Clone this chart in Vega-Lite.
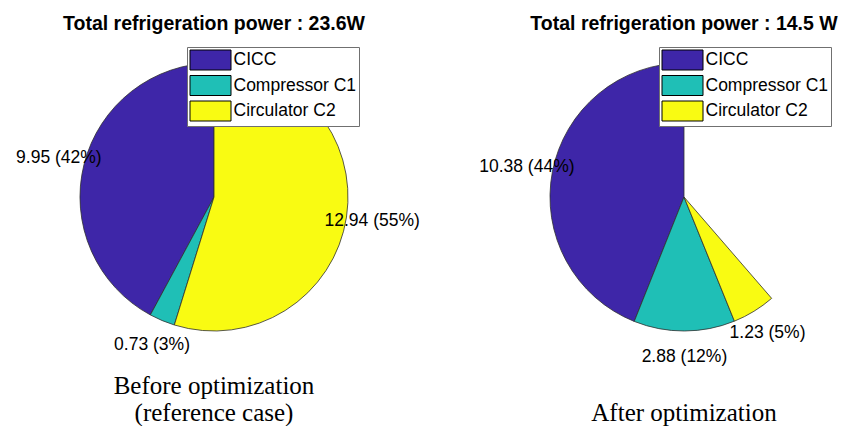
{
  "$schema": "https://vega.github.io/schema/vega-lite/v6.json",
  "padding": {"left": 0, "top": 13, "right": 0, "bottom": 0},
  "background": "white",
  "config": {
    "view": {"stroke": null},
    "font": "Liberation Sans",
    "title": {"font": "Liberation Sans", "fontSize": 19.5, "fontWeight": "bold", "color": "black", "baseline": "alphabetic", "offset": -4}
  },
  "vconcat": [
    {
      "hconcat": [
        {
          "width": 428,
          "height": 334,
          "title": {"text": "Total refrigeration power : 23.6W"},
          "data": {"values": [
            {"source": "CICC", "value": 9.95, "label": "9.95 (42%)", "idx": 1},
            {"source": "Compressor C1", "value": 0.73, "label": "0.73 (3%)", "idx": 2},
            {"source": "Circulator C2", "value": 12.94, "label": "12.94 (55%)", "idx": 3}
          ]},
          "encoding": {
            "theta": {"field": "value", "type": "quantitative", "stack": "zero", "scale": {"domain": [0, 23.62], "range": [6.283185, 0]}},
            "order": {"field": "idx", "type": "quantitative"},
            "color": {
              "field": "source", "type": "nominal",
              "scale": {"domain": ["CICC", "Compressor C1", "Circulator C2"], "range": ["#3E26A8", "#1FBFB6", "#F9FB12"]},
              "legend": {
                "title": null, "orient": "none", "legendX": 187, "legendY": 17,
                "fillColor": "white", "strokeColor": "#707070", "padding": 2.5,
                "rowPadding": 0.5, "symbolType": "M-1,-1L3.1,-1L3.1,1L-1,1Z", "symbolSize": 400,
                "symbolStrokeColor": "black", "symbolStrokeWidth": 1, "symbolOpacity": 1,
                "labelFont": "Liberation Sans", "labelFontSize": 17.5, "labelColor": "black", "labelOffset": 23, "labelLimit": 300
              }
            }
          },
          "layer": [
            {"mark": {"type": "arc", "outerRadius": 134, "stroke": "#303030", "strokeWidth": 0.8}},
            {"mark": {"type": "text", "radius": 160, "fontSize": 17.5, "font": "Liberation Sans", "align": "center", "baseline": "middle"},
             "encoding": {"text": {"field": "label"}, "color": {"value": "black"}}}
          ]
        },
        {
          "width": 314,
          "height": 334,
          "title": {"text": "Total refrigeration power : 14.5 W"},
          "data": {"values": [
            {"source": "CICC", "value": 10.38, "label": "10.38 (44%)", "idx": 1},
            {"source": "Compressor C1", "value": 2.88, "label": "2.88 (12%)", "idx": 2},
            {"source": "Circulator C2", "value": 1.23, "label": "1.23 (5%)", "idx": 3}
          ]},
          "encoding": {
            "theta": {"field": "value", "type": "quantitative", "stack": "zero", "scale": {"domain": [0, 23.62], "range": [6.283185, 0]}},
            "order": {"field": "idx", "type": "quantitative"},
            "color": {
              "field": "source", "type": "nominal",
              "scale": {"domain": ["CICC", "Compressor C1", "Circulator C2"], "range": ["#3E26A8", "#1FBFB6", "#F9FB12"]},
              "legend": {
                "title": null, "orient": "none", "legendX": 132, "legendY": 17,
                "fillColor": "white", "strokeColor": "#707070", "padding": 2.5,
                "rowPadding": 0.5, "symbolType": "M-1,-1L3.1,-1L3.1,1L-1,1Z", "symbolSize": 400,
                "symbolStrokeColor": "black", "symbolStrokeWidth": 1, "symbolOpacity": 1,
                "labelFont": "Liberation Sans", "labelFontSize": 17.5, "labelColor": "black", "labelOffset": 23, "labelLimit": 300
              }
            }
          },
          "layer": [
            {"mark": {"type": "arc", "outerRadius": 134, "stroke": "#303030", "strokeWidth": 0.8}},
            {"mark": {"type": "text", "radius": 160, "fontSize": 17.5, "font": "Liberation Sans", "align": "center", "baseline": "middle"},
             "encoding": {"text": {"field": "label"}, "color": {"value": "black"}}}
          ]
        }
      ],
      "spacing": 99,
      "bounds": "flush",
      "resolve": {"scale": {"color": "independent", "theta": "independent"}, "legend": {"color": "independent"}}
    },
    {
      "hconcat": [
        {
          "width": 428,
          "height": 27,
          "data": {"values": [
            {"line": 1, "text": "Before optimization"},
            {"line": 2, "text": "(reference case)"}
          ]},
          "mark": {"type": "text", "font": "Liberation Serif", "fontSize": 25, "baseline": "alphabetic", "color": "black"},
          "encoding": {
            "y": {"field": "line", "type": "ordinal", "axis": null, "scale": {"domain": [1, 2], "padding": 0}},
            "text": {"field": "text"}
          }
        },
        {
          "width": 314,
          "height": 27,
          "data": {"values": [
            {"line": 2, "text": "After optimization"}
          ]},
          "mark": {"type": "text", "font": "Liberation Serif", "fontSize": 25, "baseline": "alphabetic", "color": "black"},
          "encoding": {
            "y": {"field": "line", "type": "ordinal", "axis": null, "scale": {"domain": [1, 2], "padding": 0}},
            "text": {"field": "text"}
          }
        }
      ],
      "spacing": 99,
      "bounds": "flush"
    }
  ],
  "spacing": 8,
  "resolve": {"scale": {"color": "independent", "theta": "independent", "y": "independent"}, "legend": {"color": "independent"}}
}
